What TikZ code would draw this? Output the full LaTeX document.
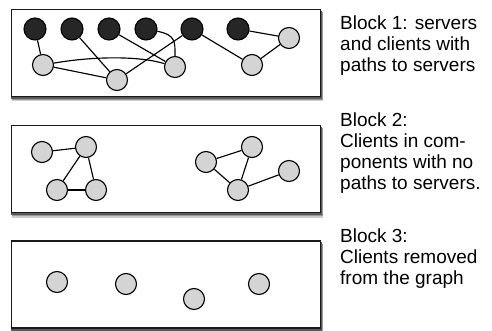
\documentclass[tikz,border=0pt]{standalone}
\usepackage{fontspec}
\setmainfont{Liberation Sans}
\usetikzlibrary{backgrounds}
\begin{document}
\begin{tikzpicture}[x=1pt,y=-1pt,
  blockbox/.style={rectangle,draw=black!90,line width=1.4pt,fill=white,inner sep=0pt,
    minimum width=309pt,minimum height=87pt},
  shadowa/.style={fill=black!20},
  shadowb/.style={fill=black!40},
  shadowc/.style={fill=black!65},
  srv/.style={circle,draw=black,line width=1.1pt,fill=black!85,minimum size=22pt,inner sep=0pt},
  cli/.style={circle,draw=black,line width=1.1pt,fill=black!17,minimum size=21pt,inner sep=0pt},
  edge/.style={line width=1.15pt,draw=black},
  caption/.style={anchor=north west,align=left,inner sep=0pt,font=\fontsize{19pt}{21pt}\selectfont}]
\useasboundingbox (0,0) rectangle (492,331);
\node[blockbox] (box1) at (166,52.75) {};
\node[blockbox] (box2) at (166,169) {};
\node[blockbox] (box3) at (166,284.5) {};
\begin{pgfonlayer}{background}
\foreach \b in {box1,box2,box3}{
  \fill[shadowa] ([shift={(1pt,-4.5pt)}]\b.north west) rectangle ([shift={(2.2pt,-4.5pt)}]\b.south east);
  \fill[shadowb] ([shift={(0.8pt,-3.2pt)}]\b.north west) rectangle ([shift={(1.6pt,-3.2pt)}]\b.south east);
  \fill[shadowc] ([shift={(0.5pt,-2pt)}]\b.north west) rectangle ([shift={(1pt,-2pt)}]\b.south east);
}
\end{pgfonlayer}
% block 1
\node[srv] (b1) at (35,29) {};
\node[srv] (b2) at (72,29) {};
\node[srv] (b3) at (109,29) {};
\node[srv] (b4) at (146,29) {};
\node[srv] (b5) at (192,29) {};
\node[srv] (b6) at (238,29) {};
\node[cli] (g1) at (43,65) {};
\node[cli] (g2) at (117,80) {};
\node[cli] (g3) at (175,67) {};
\node[cli] (g4) at (252,65) {};
\node[cli] (g5) at (289,38) {};
\draw[edge] (b1) -- (g1);
\draw[edge] (b2) -- (g2);
\draw[edge] (b3) -- (g3);
\draw[edge] (b4) .. controls (176,35) and (175,42) .. (g3);
\draw[edge] (b5) -- (g2);
\draw[edge] (b5) -- (g4);
\draw[edge] (b6) -- (g5);
\draw[edge] (g5) -- (g4);
\draw[edge] (g1) -- (g2);
\draw[edge] (g1) .. controls (95,56) and (140,56) .. (g3);
% block 2
\node[cli] (a1) at (42,152) {};
\node[cli] (a2) at (86,147) {};
\node[cli] (a3) at (57,190) {};
\node[cli] (a4) at (96,190) {};
\node[cli] (c1) at (206,162) {};
\node[cli] (c2) at (252,147) {};
\node[cli] (c3) at (238,190) {};
\node[cli] (c4) at (289,171) {};
\draw[edge] (a1) -- (a2);
\draw[edge] (a2) -- (a3);
\draw[edge] (a2) -- (a4);
\draw[edge] (a3) -- (a4);
\draw[edge] (c1) -- (c2);
\draw[edge] (c1) -- (c3);
\draw[edge] (c2) -- (c3);
\draw[edge] (c3) -- (c4);
% block 3
\node[cli] (d1) at (57,282) {};
\node[cli] (d2) at (126,284) {};
\node[cli] (d3) at (194,299) {};
\node[cli] (d4) at (259,284) {};
% captions
\node[caption] (t1) at (340,16) {Block 1: servers\\and clients with\\paths to servers};
\node[caption] (t2) at (340,113) {Block 2:\\Clients in com-\\ponents with no\\paths to servers.};
\node[caption] (t3) at (340,229) {Block 3:\\Clients removed\\from the graph};
\end{tikzpicture}
\end{document}
